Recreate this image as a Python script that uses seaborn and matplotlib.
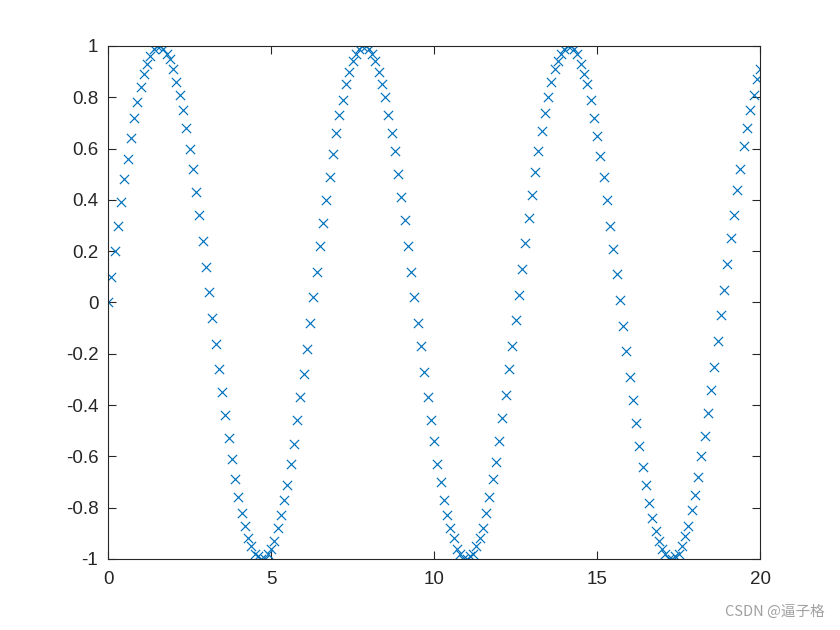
import numpy as np
import matplotlib
matplotlib.use("Agg")
import matplotlib.pyplot as plt
import seaborn as sns

y_part1 = [0.00, 0.10, 0.20, 0.30, 0.39, 0.48, 0.56, 0.64, 0.72, 0.78,
           0.84, 0.89, 0.93, 0.96, 0.99, 1.00, 1.00, 0.99, 0.97, 0.95,
           0.91, 0.86, 0.81, 0.75, 0.68, 0.60, 0.52, 0.43, 0.34, 0.24,
           0.14, 0.04, -0.06, -0.16, -0.26, -0.35, -0.44, -0.53, -0.61, -0.69,
           -0.76, -0.82, -0.87, -0.92, -0.95, -0.98, -0.99, -1.00, -1.00, -0.98,
           -0.96, -0.93, -0.88, -0.83, -0.77, -0.71, -0.63, -0.55, -0.46, -0.37,
           -0.28, -0.18, -0.08]
y_part2 = [0.02, 0.12, 0.22, 0.31, 0.40, 0.49, 0.58, 0.66, 0.73, 0.79,
           0.85, 0.90, 0.94, 0.97, 0.99, 1.00, 1.00, 0.99, 0.97, 0.94,
           0.90, 0.85, 0.80, 0.73, 0.66, 0.59, 0.50, 0.41, 0.32, 0.22,
           0.12, 0.02, -0.08, -0.17, -0.27, -0.37, -0.46, -0.54, -0.63, -0.70,
           -0.77, -0.83, -0.88, -0.92, -0.96, -0.98, -1.00, -1.00, -0.99, -0.98,
           -0.95, -0.92, -0.88, -0.82, -0.76, -0.69, -0.62, -0.54, -0.45, -0.36,
           -0.26, -0.17, -0.07]
y_part3 = [0.03, 0.13, 0.23, 0.33, 0.42, 0.51, 0.59, 0.67, 0.74, 0.80,
           0.86, 0.91, 0.94, 0.97, 0.99, 1.00, 1.00, 0.99, 0.97, 0.93,
           0.89, 0.85, 0.79, 0.72, 0.65, 0.57, 0.49, 0.40, 0.30, 0.21,
           0.11, 0.01, -0.09, -0.19, -0.29, -0.38, -0.47, -0.56, -0.64, -0.71,
           -0.78, -0.84, -0.89, -0.93, -0.96, -0.98, -1.00, -1.00, -0.99, -0.98,
           -0.95, -0.91, -0.87, -0.81, -0.75, -0.68, -0.60, -0.52, -0.43, -0.34,
           -0.25, -0.15, -0.05]
y_part4 = [0.05, 0.15, 0.25, 0.34, 0.44, 0.52, 0.61, 0.68, 0.75, 0.81, 0.87, 0.91]

y_values = y_part1 + y_part2 + y_part3 + y_part4
X_MIN, X_MAX = 0.0, 20.0
x_values = np.linspace(X_MIN, X_MAX, len(y_values))

x_ticks = [0, 5, 10, 15, 20]
y_ticks = [-1, -0.8, -0.6, -0.4, -0.2, 0, 0.2, 0.4, 0.6, 0.8, 1]
y_ticklabels = ["-1", "-0.8", "-0.6", "-0.4", "-0.2", "0", "0.2", "0.4", "0.6", "0.8", "1"]

sns.set_theme(style="white")
plt.rcParams["font.family"] = ["Liberation Sans", "Noto Sans CJK SC", "DejaVu Sans"]

fig = plt.figure(figsize=(8.4, 6.3), dpi=100)
ax = fig.add_axes([0.1286, 0.1127, 0.7762, 0.8143])

sns.scatterplot(x=x_values, y=y_values, marker="x", color="#0072BD",
                s=44, linewidth=0.85, ax=ax, legend=False)

ax.set_xlim(X_MIN, X_MAX)
ax.set_ylim(-1, 1)
ax.set_xticks(x_ticks)
ax.set_xticklabels([str(t) for t in x_ticks])
ax.set_yticks(y_ticks)
ax.set_yticklabels(y_ticklabels)
ax.tick_params(direction="in", length=6, width=0.8, colors="#262626",
               labelsize=13.5, top=True, right=True, bottom=True, left=True,
               labelcolor="#262626")
ax.tick_params(axis="x", pad=9)
ax.tick_params(axis="y", pad=7)
for sp in ax.spines.values():
    sp.set_visible(True)
    sp.set_color("#262626")
    sp.set_linewidth(0.8)
ax.grid(False)

fig.text(0.982, 0.018, "CSDN @逼子格", ha="right", va="bottom",
         fontsize=10.5, color="#a0a0a0",
         family=["Noto Sans CJK SC", "DejaVu Sans"])

fig.savefig("out.png", dpi=100, facecolor="white")
